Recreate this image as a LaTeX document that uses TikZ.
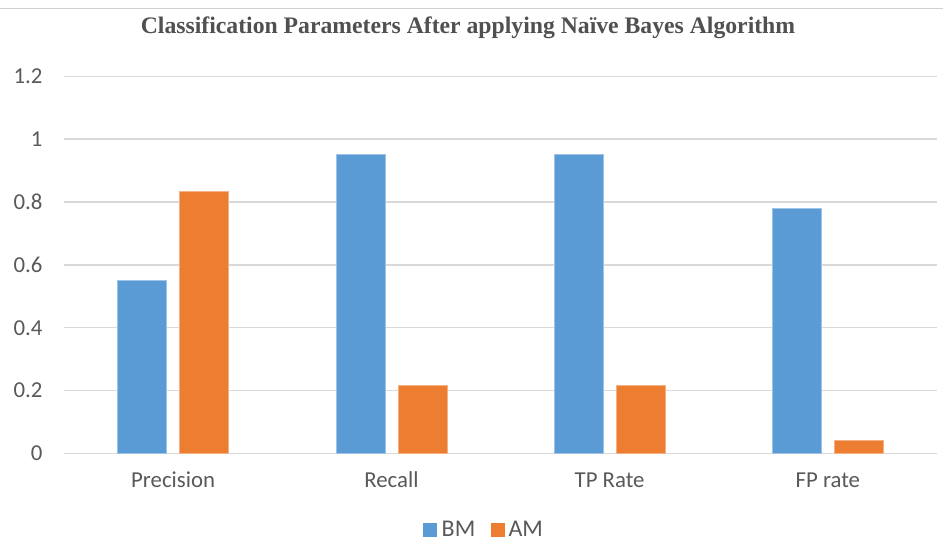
\documentclass[tikz,border=0pt]{standalone}
\usepackage{fontspec}
\setmainfont{Liberation Serif}
\newfontfamily\chartfont{Carlito}
\definecolor{bmblue}{HTML}{5B9BD5}
\definecolor{bmedge}{HTML}{9DC3E6}
\definecolor{amorange}{HTML}{ED7D31}
\definecolor{amedge}{HTML}{F4B183}
\definecolor{gridgray}{HTML}{D9D9D9}
\definecolor{rulegray}{HTML}{D0D0D0}
\definecolor{labelgray}{HTML}{595959}
\definecolor{titlegray}{HTML}{505050}
\tikzset{
  charttitle/.style={inner sep=0pt, text=titlegray, font=\fontsize{23.7}{28}\selectfont\bfseries},
  ticklabel/.style={inner sep=0pt, text=labelgray, font=\chartfont\fontsize{22.8}{26}\selectfont},
  catlabel/.style={inner sep=0pt, text=labelgray, font=\chartfont\fontsize{22.8}{26}\selectfont},
  legendlabel/.style={inner sep=0pt, text=labelgray, font=\chartfont\fontsize{24}{28}\selectfont},
  gridline/.style={draw=gridgray, line width=1.5pt},
  bmbar/.style={fill=bmblue, draw=bmedge, line width=0.7pt},
  ambar/.style={fill=amorange, draw=amedge, line width=0.7pt},
}
\begin{document}
\begin{tikzpicture}[x=1pt,y=-1pt]
  \useasboundingbox (0,0) rectangle (943,554);
  \fill[white] (0,0) rectangle (943,554);
  % separator rule at the top
  \draw[draw=rulegray, line width=1.5pt] (0,8.7) -- (943,8.7);
  % chart title
  \node[charttitle, anchor=base] (title) at (468,33)
    {Classification Parameters After applying Naïve Bayes Algorithm};
  % horizontal gridlines and value axis labels
  \foreach \i/\lab in {0/0,1/0.2,2/0.4,3/0.6,4/0.8,5/1,6/1.2}{
    \draw[gridline] (64,{453.3-\i*62.83}) -- (937,{453.3-\i*62.83});
    \node[ticklabel, anchor=base east] (tick\i) at (42.7,{453.3-\i*62.83+7.5}) {\lab};
  }
  % bars: category centre / BM value / AM value / label
  \foreach \c/\b/\a/\name [count=\k] in {173.1/0.551/0.834/Precision,
                                      391.4/0.953/0.215/Recall,
                                      609.6/0.953/0.215/TP Rate,
                                      827.9/0.779/0.042/FP rate}{
    \draw[bmbar] ({\c-55.5},453.3) rectangle ({\c-6.5},{453.3-\b*314});
    \draw[ambar] ({\c+6.5},453.3) rectangle ({\c+55.5},{453.3-\a*314});
    \node[catlabel, anchor=base] (cat\k) at (\c,487.7) {\name};
  }
  % legend
  \fill[bmblue] (423.3,523.3) rectangle (437.3,536.7);
  \node[legendlabel, anchor=base west] (legbm) at (441.5,536.7) {BM};
  \fill[amorange] (491,523.3) rectangle (504.5,536.7);
  \node[legendlabel, anchor=base west] (legam) at (508.3,536.7) {AM};
\end{tikzpicture}
\end{document}
